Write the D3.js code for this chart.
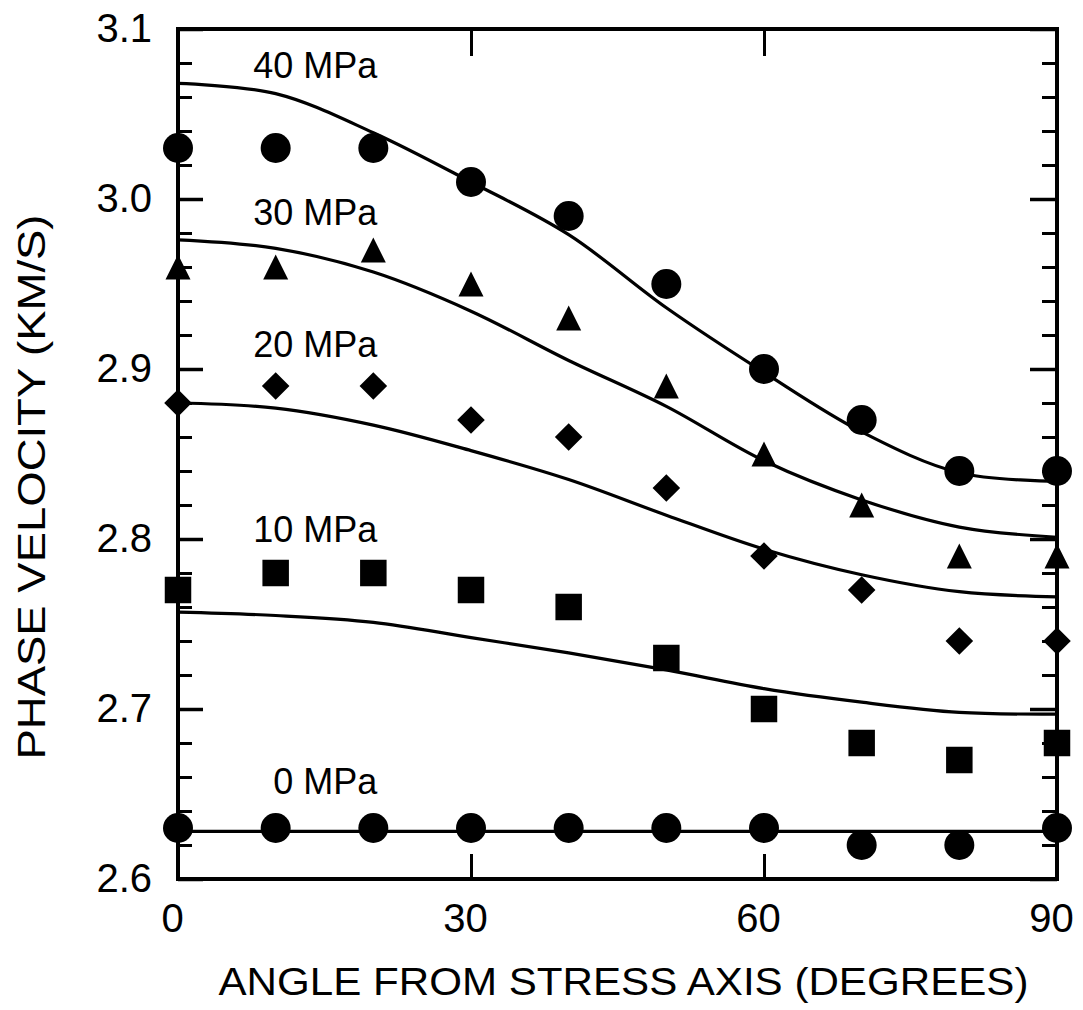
<!DOCTYPE html>
<html>
<head>
<meta charset="utf-8">
<script src="https://cdn.jsdelivr.net/npm/d3@7"></script>
<style>
  html, body { margin: 0; padding: 0; background: #fff; }
  svg { display: block; }
  text { font-family: "Liberation Sans", Arial, Helvetica, sans-serif; fill: #000; }
</style>
</head>
<body>
<svg id="chart" width="1083" height="1010"></svg>
<script>
// Measured angles (degrees from the stress axis)
const angles = [0, 10, 20, 30, 40, 50, 60, 70, 80, 90];

// Measured phase velocities (km/s) at each confining stress
const meas40 = [3.03, 3.03, 3.03, 3.01, 2.99, 2.95, 2.90, 2.87, 2.84, 2.84];
const meas30 = [2.96, 2.96, 2.97, 2.95, 2.93, 2.89, 2.85, 2.82, 2.79, 2.79];
const meas20 = [2.88, 2.89, 2.89, 2.87, 2.86, 2.83, 2.79, 2.77, 2.74, 2.74];
const meas10 = [2.77, 2.78, 2.78, 2.77, 2.76, 2.73, 2.70, 2.68, 2.67, 2.68];
const meas0  = [2.63, 2.63, 2.63, 2.63, 2.63, 2.63, 2.63, 2.62, 2.62, 2.63];

// Model curves (km/s), sampled at the same angles
const model40 = [3.068, 3.062, 3.039, 3.010, 2.979, 2.936, 2.898, 2.863, 2.839, 2.834];
const model30 = [2.976, 2.971, 2.957, 2.934, 2.905, 2.878, 2.846, 2.823, 2.807, 2.801];
const model20 = [2.880, 2.877, 2.867, 2.852, 2.835, 2.814, 2.794, 2.779, 2.769, 2.766];
const model10 = [2.757, 2.755, 2.751, 2.742, 2.733, 2.723, 2.712, 2.704, 2.698, 2.697];
const model0  = [2.628, 2.628, 2.628, 2.628, 2.628, 2.628, 2.628, 2.628, 2.628, 2.628];

// Curve labels and where they sit (right end angle, baseline velocity)
const stressLabels = ["40 MPa", "30 MPa", "20 MPa", "10 MPa", "0 MPa"];
const labelAngle = 20.4;
const labelVel = [3.071, 2.985, 2.907, 2.798, 2.650];

// Axis ticks
const xTicks = [0, 30, 60, 90];
const yMajor = [2.6, 2.7, 2.8, 2.9, 3.0, 3.1];
const yMinor = d3.range(130, 156).filter(i => i % 5 !== 0).map(i => i / 50);

const svg = d3.select("#chart");
const plotLeft = 178, plotRight = 1057, plotTop = 29, plotBottom = 879;

const x = d3.scaleLinear().domain([0, 90]).range([plotLeft, plotRight]);
const y = d3.scaleLinear().domain([2.6, 3.1]).range([plotBottom, plotTop]);

// ---- axes: inward ticks on all four sides ----
function styleAxis(g, width) {
  g.select(".domain").remove();
  g.selectAll(".tick line").attr("stroke", "#000").attr("stroke-width", width);
  g.selectAll(".tick text").attr("fill", "#000")
    .style("font-family", '"Liberation Sans", Arial, sans-serif');
}

// left
svg.append("g").attr("transform", `translate(${plotLeft},0)`)
  .call(d3.axisLeft(y).tickValues(yMinor).tickSize(-14).tickFormat(""))
  .call(g => styleAxis(g, 3));
svg.append("g").attr("transform", `translate(${plotLeft},0)`)
  .call(d3.axisLeft(y).tickValues(yMajor).tickSize(-25).tickPadding(26).tickFormat(d3.format(".1f")))
  .call(g => styleAxis(g, 3.5))
  .call(g => g.selectAll(".tick text").style("font-size", "40px"));

// right
svg.append("g").attr("transform", `translate(${plotRight},0)`)
  .call(d3.axisRight(y).tickValues(yMinor).tickSize(-15).tickFormat(""))
  .call(g => styleAxis(g, 3));
svg.append("g").attr("transform", `translate(${plotRight},0)`)
  .call(d3.axisRight(y).tickValues(yMajor).tickSize(-27).tickFormat(""))
  .call(g => styleAxis(g, 3.5));

// bottom
svg.append("g").attr("transform", `translate(0,${plotBottom})`)
  .call(d3.axisBottom(x).tickValues(xTicks).tickSize(-25).tickPadding(25).tickFormat(d3.format("d")))
  .call(g => styleAxis(g, 3))
  .call(g => g.selectAll(".tick text").style("font-size", "40px").attr("dx", "-6"));

// top
svg.append("g").attr("transform", `translate(0,${plotTop})`)
  .call(d3.axisTop(x).tickValues(xTicks).tickSize(-27).tickFormat(""))
  .call(g => styleAxis(g, 3));

// frame
svg.append("rect")
  .attr("x", plotLeft).attr("y", plotTop)
  .attr("width", plotRight - plotLeft).attr("height", plotBottom - plotTop)
  .attr("fill", "none").attr("stroke", "#000").attr("stroke-width", 4);

// ---- model curves ----
const line = d3.line()
  .x((d, i) => x(angles[i]))
  .y(d => y(d))
  .curve(d3.curveCatmullRom.alpha(0.5));

[model40, model30, model20, model10, model0].forEach(m => {
  svg.append("path")
    .datum(m)
    .attr("d", line)
    .attr("fill", "none")
    .attr("stroke", "#000")
    .attr("stroke-width", 3.2)
    .attr("stroke-linejoin", "round");
});

// ---- measured points ----
const circlePath = d3.symbol().type(d3.symbolCircle).size(Math.PI * 15 * 15)();
const squarePath = d3.symbol().type(d3.symbolSquare).size(26.5 * 26.5)();
const diamondPath = d3.symbol().type(d3.symbolSquare).size(19.5 * 19.5)();
const trianglePath = "M0,-12.5L12.5,12.5L-12.5,12.5Z";

function drawPoints(vals, path, rotate) {
  svg.append("g").selectAll("path")
    .data(vals)
    .join("path")
    .attr("d", path)
    .attr("transform", (d, i) => `translate(${x(angles[i])},${y(d)})` + (rotate ? " rotate(45)" : ""))
    .attr("fill", "#000");
}

drawPoints(meas40, circlePath, false);
drawPoints(meas30, trianglePath, false);
drawPoints(meas20, diamondPath, true);
drawPoints(meas10, squarePath, false);
drawPoints(meas0, circlePath, false);

// ---- curve labels ----
svg.append("g").selectAll("text")
  .data(stressLabels)
  .join("text")
  .attr("x", x(labelAngle))
  .attr("y", (d, i) => y(labelVel[i]))
  .attr("text-anchor", "end")
  .style("font-size", "36px")
  .text(d => d);

// ---- axis titles ----
svg.append("text")
  .attr("x", (plotLeft + plotRight) / 2 + 6)
  .attr("y", 995)
  .attr("text-anchor", "middle")
  .attr("textLength", 810)
  .attr("lengthAdjust", "spacingAndGlyphs")
  .style("font-size", "38px")
  .text("ANGLE FROM STRESS AXIS (DEGREES)");

svg.append("text")
  .attr("transform", "translate(45,487) rotate(-90)")
  .attr("text-anchor", "middle")
  .attr("textLength", 545)
  .attr("lengthAdjust", "spacingAndGlyphs")
  .style("font-size", "38px")
  .text("PHASE VELOCITY (KM/S)");
</script>
</body>
</html>
